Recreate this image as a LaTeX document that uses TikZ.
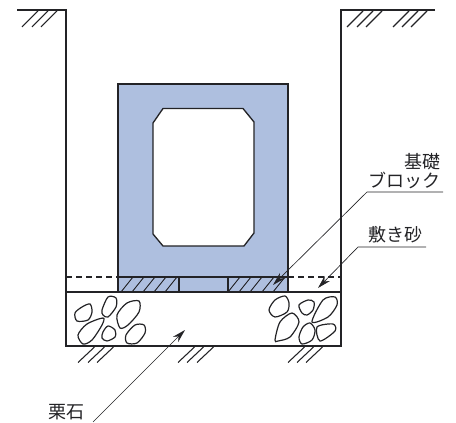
\documentclass[tikz,border=0pt]{standalone}
\usepackage{fontspec}
\setmainfont{Noto Sans CJK JP}
\usetikzlibrary{arrows.meta}
\definecolor{boxblue}{RGB}{174,191,223}
\definecolor{darkline}{RGB}{35,35,38}
\tikzset{
  wall/.style={darkline,line width=1pt},
  thick line/.style={darkline,line width=1.6pt},
  ground/.style={darkline,line width=.8pt},
  hatchline/.style={darkline,line width=.65pt},
  stone/.style={darkline,line width=.9pt,fill=white},
  leader/.style={darkline,line width=.5pt},
  dashline/.style={darkline,line width=.85pt,dash pattern=on 4.5pt off 3pt},
  tipped/.style={leader,-{Stealth[length=10pt,width=5.5pt]}},
  label/.style={inner sep=0pt,font=\fontsize{13.5pt}{15pt}\selectfont,text=darkline}
}
\begin{document}
\begin{tikzpicture}[x=.75pt,y=-.75pt]
\useasboundingbox (0,0) rectangle (456,423);
% box
\draw[wall,fill=boxblue] (118,84) rectangle (288,292);
\draw[wall,fill=white] (163,108.5) -- (243,108.5) -- (254,122) -- (254,233) -- (244,246) -- (163,246) -- (153,234) -- (153,123) -- cycle;
% blocks
\foreach \x in {121,132,143,154,165} \draw[hatchline] (\x,292) -- ++(12,-15);
\foreach \x in {228,239,250,262,273} \draw[hatchline] (\x,292) -- ++(12,-15);
\draw[wall] (179,277) -- (179,292);
\draw[wall] (228,277) -- (228,292);
\draw[thick line] (118,277) -- (288,277);
\draw[dashline] (66,277) -- (118,277);
\draw[dashline] (288,277) -- (341,277);
% ground
\draw[wall] (17,10) -- (66,10) -- (66,292);
\draw[wall] (435,10) -- (341,10) -- (341,292);
\draw[wall] (66,292) -- (66,346) -- (341,346) -- (341,292);
\draw[thick line] (66,292) -- (341,292);
\foreach \x in {22,32,41,347,357,366,393,402,411} \draw[ground] (\x,27) -- ++(16,-16);
\foreach \x in {78,88,97,178,187,197,288,297,306} \draw[ground] (\x,362.5) -- ++(16.5,-15.5);
% stones left
\draw[stone] plot[smooth cycle,tension=.5] coordinates {(75,313) (82,307) (90,304) (92,312) (88,320) (77,321)};
\draw[stone] plot[smooth cycle,tension=.5] coordinates {(102,310) (108,297) (116,298) (116,307) (108,317) (103,315)};
\draw[stone] plot[smooth cycle,tension=.5] coordinates {(117,315) (127,303) (139,301) (139,312) (128,325) (120,328)};
\draw[stone] plot[smooth cycle,tension=.5] coordinates {(78,335) (87,324) (103,318) (102,325) (92,340) (83,344)};
\draw[stone] plot[smooth cycle,tension=.5] coordinates {(103,332) (108,326) (115,330) (115,337) (107,341) (102,338)};
\draw[stone] plot[smooth cycle,tension=.5] coordinates {(126,335) (135,325) (144,325) (145,333) (137,343) (127,343)};
% stones right
\draw[stone] plot[smooth cycle,tension=.5] coordinates {(269,310) (275,300) (285,296) (289,303) (287,312) (275,317)};
\draw[stone] plot[smooth cycle,tension=.5] coordinates {(299,305) (308,300) (314,302) (313,310) (307,315) (302,313)};
\draw[stone] plot[smooth cycle,tension=.5] coordinates {(312,322) (323,300) (335,297) (337,305) (328,317)};
\draw[stone] plot[smooth cycle,tension=.5] coordinates {(275,340) (280,322) (292,313) (299,322) (290,337) (278,341)};
\draw[stone] plot[smooth cycle,tension=.5] coordinates {(299,337) (303,327) (310,323) (315,330) (312,340) (302,344)};
\draw[stone] plot[smooth cycle,tension=.5] coordinates {(317,327) (333,324) (335,331) (320,341)};
% labels
\node[label,anchor=east] (kiso) at (441,162) {基礎};
\node[label,anchor=east] (block) at (441,180) {ブロック};
\node[label] (sand) at (395,235) {敷き砂};
\node[label] (stones) at (66,412) {栗石};
% leaders
\coordinate (blockend) at (443,192);
\coordinate (blockknee) at (367,192);
\coordinate (blocktip) at (273,285);
\coordinate (sandend) at (426,247);
\coordinate (sandknee) at (358,247);
\coordinate (sandtip) at (318,288);
\coordinate (stonestart) at (93,422);
\coordinate (stonetip) at (185,330);
\draw[tipped] (blockend) -- (blockknee) -- (blocktip);
\draw[tipped] (sandend) -- (sandknee) -- (sandtip);
\draw[tipped] (stonestart) -- (stonetip);
\end{tikzpicture}
\end{document}
